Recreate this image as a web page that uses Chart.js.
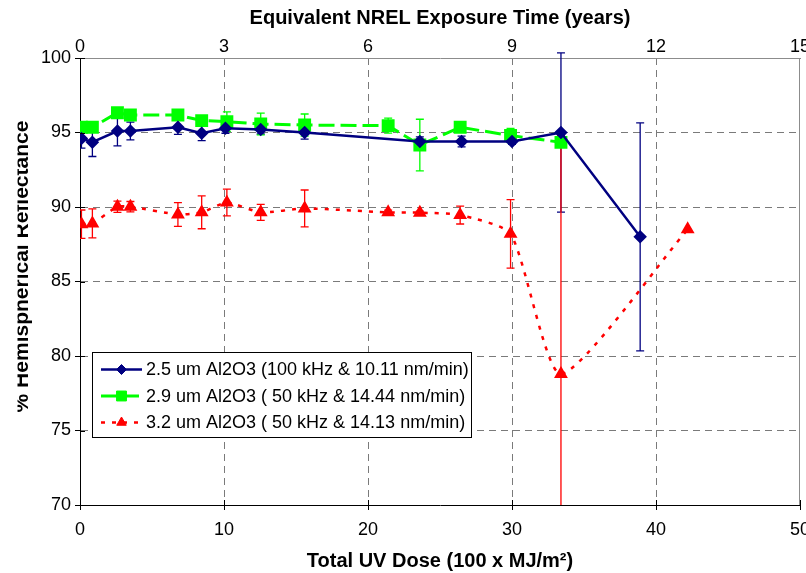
<!DOCTYPE html>
<html>
<head>
<meta charset="utf-8">
<script src="https://cdn.jsdelivr.net/npm/chart.js@4/dist/chart.umd.min.js"></script>
<style>
html, body { margin: 0; padding: 0; background: #fff; overflow: hidden; }
#wrap { width: 806px; height: 573px; overflow: hidden; }
</style>
</head>
<body>
<div id="wrap"><canvas id="uvChart" width="830" height="573"></canvas></div>
<script>
// Total UV dose (100 x MJ/m2), % reflectance and error bar half widths
var blueDose = [0.1, 0.86, 2.6, 3.5, 6.8, 8.45, 10.1, 12.55, 15.6, 23.6, 26.5, 30.0, 33.4, 38.9];
var blueRefl = [94.6, 94.35, 95.1, 95.1, 95.35, 94.95, 95.28, 95.2, 95.0, 94.4, 94.4, 94.4, 95.0, 88.0];
var blueErr  = [0.65, 0.96, 1.0, 0.6, 0.47, 0.5, 0.33, 0.3, 0.44, 0.3, 0.36, 0.2, 5.34, 7.65];

var greenDose = [0.1, 0.86, 2.6, 3.5, 6.8, 8.45, 10.2, 12.55, 15.6, 21.4, 23.6, 26.4, 29.9, 33.4];
var greenRefl = [95.35, 95.35, 96.33, 96.17, 96.17, 95.8, 95.73, 95.57, 95.5, 95.46, 94.16, 95.35, 94.8, 94.34];
var greenErr  = [0.3, 0.2, 0.2, 0.2, 0.2, 0.2, 0.65, 0.73, 0.74, 0.5, 1.73, 0.2, 0.48, 0.2];

var redDose = [0.1, 0.86, 2.6, 3.5, 6.8, 8.45, 10.2, 12.55, 15.6, 21.4, 23.6, 26.4, 29.9, 33.4, 42.2];
var redRefl = [88.85, 88.9, 90.02, 90.02, 89.5, 89.64, 90.3, 89.64, 89.9, 89.64, 89.62, 89.46, 88.2, 78.8, 88.5];
var redErr  = [0.95, 0.97, 0.38, 0.35, 0.8, 1.1, 0.9, 0.54, 1.24, 0.15, 0.1, 0.6, 2.3, 16, 0];

var seriesLabels = [
    '2.5 um Al2O3 (100 kHz & 10.11 nm/min)',
    '2.9 um Al2O3 ( 50 kHz & 14.44 nm/min)',
    '3.2 um Al2O3 ( 50 kHz & 14.13 nm/min)'
];

var doseTicks = [0, 10, 20, 30, 40, 50];
var yearTicks = [0, 3, 6, 9, 12, 15];
var reflTicks = [70, 75, 80, 85, 90, 95, 100];

var FONT = "'Liberation Sans', Arial, sans-serif";

function points(xs, ys) {
    return xs.map(function(x, i) { return {x: x, y: ys[i]}; });
}

/**
 * Draws vertical error bars from each dataset's err array.
 */
var errorBarPlugin = {
    id: 'errorBars',
    beforeDatasetsDraw: function(chart) {
        var ctx = chart.ctx;
        var xs = chart.scales.x, ys = chart.scales.y, area = chart.chartArea;
        ctx.save();
        ctx.beginPath();
        ctx.rect(area.left, area.top - 10, area.right - area.left, area.bottom - area.top + 10);
        ctx.clip();
        chart.data.datasets.forEach(function(ds) {
            ctx.strokeStyle = ds.borderColor;
            ctx.lineWidth = 1.3;
            ctx.setLineDash([]);
            ds.data.forEach(function(p, i) {
                var e = ds.err[i];
                if (!e) return;
                var px = xs.getPixelForValue(p.x);
                var top = ys.getPixelForValue(p.y + e);
                var bot = ys.getPixelForValue(p.y - e);
                ctx.beginPath();
                ctx.moveTo(px, top); ctx.lineTo(px, bot);
                ctx.moveTo(px - 4, top); ctx.lineTo(px + 4, top);
                ctx.moveTo(px - 4, bot); ctx.lineTo(px + 4, bot);
                ctx.stroke();
            });
        });
        ctx.restore();
    }
};

/**
 * Frame, inner tick stubs, clipped y title and the boxed legend.
 */
var framePlugin = {
    id: 'frame',
    afterDraw: function(chart) {
        var ctx = chart.ctx, area = chart.chartArea;
        var xs = chart.scales.x, ys = chart.scales.y;
        ctx.save();
        ctx.setLineDash([]);
        ctx.strokeStyle = '#8c8c8c';
        ctx.lineWidth = 1;
        ctx.beginPath();
        ctx.moveTo(area.right - 0.5, area.top);
        ctx.lineTo(area.right - 0.5, area.bottom);
        ctx.stroke();

        ctx.strokeStyle = '#000';
        ctx.beginPath();
        reflTicks.forEach(function(v) {
            var py = Math.round(ys.getPixelForValue(v)) + 0.5;
            ctx.moveTo(area.left, py); ctx.lineTo(area.left + 5, py);
        });
        doseTicks.forEach(function(v) {
            var px = Math.round(xs.getPixelForValue(v)) + 0.5;
            ctx.moveTo(px, area.bottom); ctx.lineTo(px, area.bottom - 5);
        });
        ctx.stroke();

        // y title, cut at the left edge as in the source picture
        ctx.save();
        ctx.beginPath();
        ctx.rect(17.5, 0, 200, 573);
        ctx.clip();
        ctx.translate(28, 266.5);
        ctx.rotate(-Math.PI / 2);
        ctx.fillStyle = '#000';
        ctx.font = 'bold 21px ' + FONT;
        ctx.textAlign = 'center';
        ctx.textBaseline = 'alphabetic';
        ctx.fillText('% Hemispherical Reflectance', 0, 0);
        ctx.restore();

        // legend
        var lx = 92.5, ly = 352.5, lw = 379, lh = 85;
        ctx.fillStyle = '#fff';
        ctx.fillRect(lx, ly, lw, lh);
        ctx.strokeStyle = '#000';
        ctx.lineWidth = 1;
        ctx.strokeRect(lx, ly, lw, lh);
        chart.data.datasets.forEach(function(ds, i) {
            var cy = 369.5 + i * 26.5;
            ctx.strokeStyle = ds.borderColor;
            ctx.lineWidth = ds.borderWidth;
            ctx.setLineDash(ds.borderDash || []);
            ctx.beginPath();
            ctx.moveTo(101, cy); ctx.lineTo(142, cy);
            ctx.stroke();
            ctx.setLineDash([]);
            ctx.fillStyle = ds.pointBackgroundColor;
            ctx.strokeStyle = ds.pointBorderColor;
            ctx.lineWidth = 1;
            Chart.helpers.drawPoint(ctx, {pointStyle: ds.pointStyle, radius: ds.pointRadius, rotation: 0, borderWidth: 1}, 121.5, cy);
            ctx.fillStyle = '#000';
            ctx.font = '18px ' + FONT;
            ctx.textAlign = 'left';
            ctx.textBaseline = 'middle';
            ctx.fillText(ds.label, 146, cy + 1);
        });
        ctx.restore();
    }
};

var gridColor = function(c) {
    var v = c.tick ? c.tick.value : null;
    return (v === 0 || v === 50 || v === 70 || v === 100) ? 'rgba(0,0,0,0)' : '#7a7a7a';
};

var uvChart = new Chart(document.getElementById('uvChart').getContext('2d'), {
    type: 'line',
    data: {
        datasets: [{
            label: seriesLabels[0],
            data: points(blueDose, blueRefl),
            err: blueErr,
            borderColor: '#000080',
            backgroundColor: '#000080',
            pointBackgroundColor: '#000080',
            pointBorderColor: '#000080',
            pointStyle: 'rectRot',
            pointRadius: 5,
            borderWidth: 2.5,
            tension: 0,
            fill: false
        }, {
            label: seriesLabels[1],
            data: points(greenDose, greenRefl),
            err: greenErr,
            borderColor: '#00ff00',
            backgroundColor: '#00ff00',
            pointBackgroundColor: '#00ff00',
            pointBorderColor: '#00ff00',
            pointStyle: 'rect',
            pointRadius: 7,
            borderWidth: 3,
            borderDash: [16, 6],
            tension: 0,
            fill: false
        }, {
            label: seriesLabels[2],
            data: points(redDose, redRefl),
            err: redErr,
            borderColor: '#ff0000',
            backgroundColor: '#ff0000',
            pointBackgroundColor: '#ff0000',
            pointBorderColor: '#ff0000',
            pointStyle: 'triangle',
            pointRadius: 5.5,
            borderWidth: 2.5,
            borderDash: [4, 7],
            tension: 0.2,
            fill: false
        }]
    },
    options: {
        responsive: false,
        animation: false,
        devicePixelRatio: 1,
        layout: {padding: {left: 0, right: 30, top: 0, bottom: 0}},
        plugins: {legend: {display: false}, tooltip: {enabled: false}},
        scales: {
            x: {
                type: 'linear', position: 'bottom', min: 0, max: 50,
                afterBuildTicks: function(s) { s.ticks = doseTicks.map(function(v) { return {value: v}; }); },
                afterFit: function(s) { s.height = 68; },
                ticks: {color: '#000', font: {family: FONT, size: 18}, padding: 9, maxRotation: 0, autoSkip: false},
                grid: {color: gridColor, lineWidth: 1, tickLength: 5, tickColor: '#000'},
                border: {color: '#000', width: 1, dash: [7, 5]},
                title: {display: true, text: 'Total UV Dose (100 x MJ/m\u00b2)', color: '#000',
                        font: {family: FONT, size: 20, weight: 'bold'}, padding: {top: 0, bottom: 0}}
            },
            x2: {
                type: 'linear', position: 'top', min: 0, max: 15,
                afterBuildTicks: function(s) { s.ticks = yearTicks.map(function(v) { return {value: v}; }); },
                afterFit: function(s) { s.height = 58; },
                ticks: {color: '#000', font: {family: FONT, size: 18}, padding: 0, maxRotation: 0, autoSkip: false},
                grid: {display: false, drawOnChartArea: false, drawTicks: false},
                border: {color: '#8c8c8c', width: 1},
                title: {display: true, text: 'Equivalent NREL Exposure Time (years)', color: '#000',
                        font: {family: FONT, size: 20, weight: 'bold'}, padding: {top: 6, bottom: 0}}
            },
            y: {
                type: 'linear', min: 70, max: 100,
                afterBuildTicks: function(s) { s.ticks = reflTicks.map(function(v) { return {value: v}; }); },
                afterFit: function(s) { s.width = 80; },
                ticks: {color: '#000', font: {family: FONT, size: 18}, padding: 4},
                grid: {color: gridColor, lineWidth: 1, tickLength: 5, tickColor: '#000'},
                border: {color: '#000', width: 1, dash: [7, 5]}
            }
        }
    },
    plugins: [errorBarPlugin, framePlugin]
});
</script>
</body>
</html>
